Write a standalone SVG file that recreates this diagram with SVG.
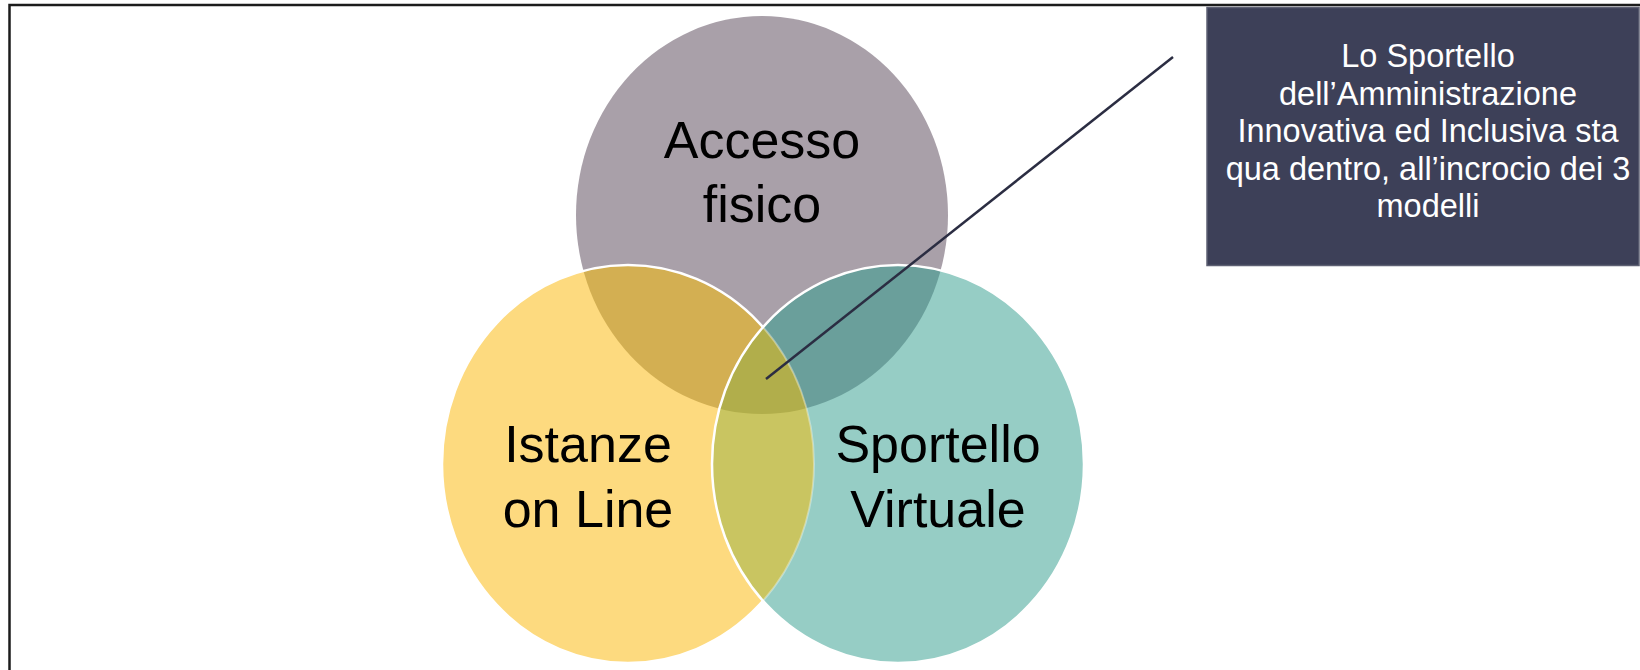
<svg xmlns="http://www.w3.org/2000/svg" width="1640" height="670" viewBox="0 0 1640 670">
<style>
.lbl{font-family:"Liberation Sans",Arial,sans-serif;font-size:52px;fill:#000;text-anchor:middle}
.box{font-family:"Liberation Sans",Arial,sans-serif;font-size:32.5px;fill:#fff;text-anchor:middle}
</style>
<defs>
<ellipse id="eP" cx="762" cy="215" rx="186" ry="199"/>
<ellipse id="eY" cx="628" cy="464" rx="186" ry="199"/>
<ellipse id="eT" cx="898" cy="464" rx="186" ry="199"/>
<clipPath id="cP"><use href="#eP"/></clipPath>
<clipPath id="cY"><use href="#eY"/></clipPath>
<clipPath id="cT"><use href="#eT"/></clipPath>
</defs>
<rect x="0" y="0" width="1640" height="670" fill="#fff"/>
<rect x="9.5" y="5" width="1700" height="700" fill="none" stroke="#1c1c1c" stroke-width="2.5"/>
<g id="accesso-fisico">
<use href="#eP" fill="#A9A0A9"/>
</g>
<g id="istanze-on-line">
<use href="#eY" fill="#FDDA7F"/>
<use href="#eY" fill="#D3AF52" clip-path="url(#cP)"/>
<use href="#eY" fill="none" stroke="#fff" stroke-width="2.5"/>
</g>
<g id="sportello-virtuale">
<use href="#eT" fill="#96CDC5"/>
<use href="#eT" fill="#6A9F9B" clip-path="url(#cP)"/>
<use href="#eT" fill="#C9C561" clip-path="url(#cY)"/>
<g clip-path="url(#cP)"><use href="#eT" fill="#B1AE4B" clip-path="url(#cY)"/></g>
<use href="#eY" fill="none" stroke="#fff" stroke-opacity="0.35" stroke-width="2" clip-path="url(#cT)"/>
<use href="#eT" fill="none" stroke="#fff" stroke-width="2.5"/>
</g>
<g id="labels">
<text class="lbl" x="762" y="158">Accesso</text>
<text class="lbl" x="762" y="222">fisico</text>
<text class="lbl" x="588" y="462">Istanze</text>
<text class="lbl" x="588" y="527">on Line</text>
<text class="lbl" x="938" y="462">Sportello</text>
<text class="lbl" x="938" y="527">Virtuale</text>
</g>
<g id="connectors">
<line x1="1173" y1="57" x2="766" y2="379" stroke="#2B2D42" stroke-width="2.5"/>
</g>
<g id="callout">
<rect x="1207" y="7.5" width="432" height="258" fill="#3D4058" stroke="#5E6073" stroke-width="1.5"/>
<text class="box" x="1428" y="67">Lo Sportello</text>
<text class="box" x="1428" y="104.5">dell’Amministrazione</text>
<text class="box" x="1428" y="142">Innovativa ed Inclusiva sta</text>
<text class="box" x="1428" y="179.5">qua dentro, all’incrocio dei 3</text>
<text class="box" x="1428" y="217">modelli</text>
</g>
</svg>
